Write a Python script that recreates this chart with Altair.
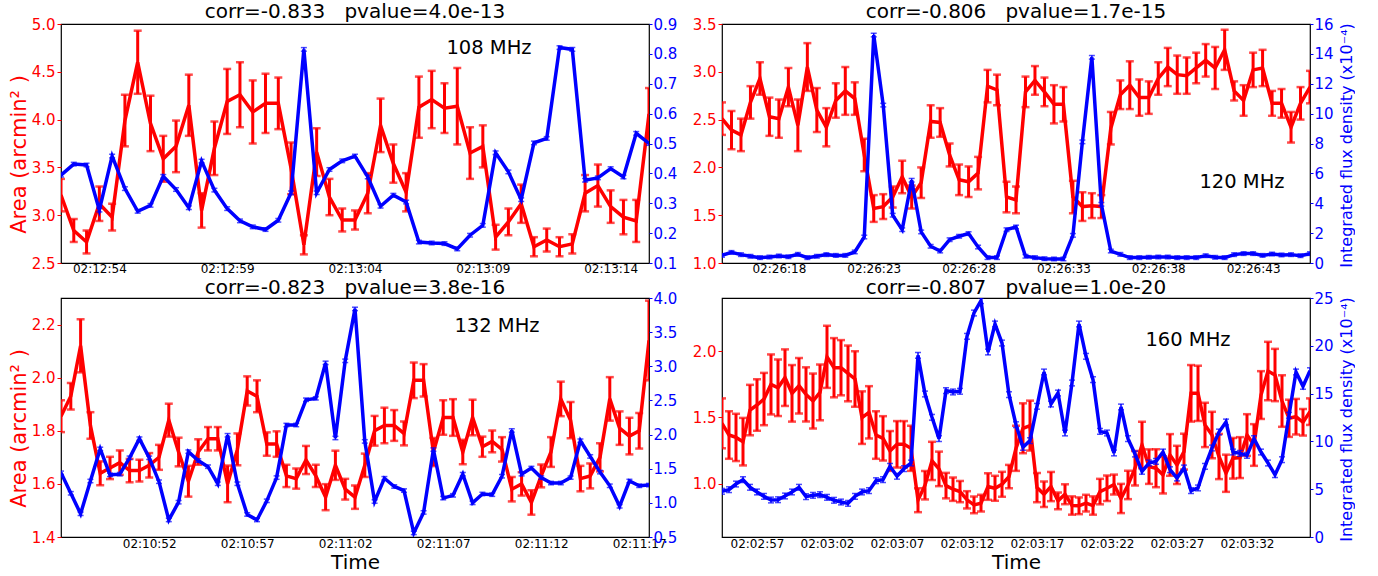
import altair as alt
import pandas as pd

FONT = "DejaVu Sans"
RED = "#ff0000"
BLUE = "#0000ff"
CADENCE = 0.5  # seconds between samples

# ---------------- 108 MHz ----------------
start_108 = "02:12:52.5"
ticks_108 = ["02:12:54", "02:12:59", "02:13:04", "02:13:09", "02:13:14"]
area_108 = [3.21, 2.84, 2.72, 3.12, 2.98, 3.99, 4.60, 3.96, 3.59, 3.72,
            4.15, 3.05, 3.70, 4.19, 4.26, 4.08, 4.17, 4.17, 3.49, 2.69,
            3.66, 3.19, 2.95, 2.95, 3.23, 3.94, 3.54, 3.24, 4.13, 4.21,
            4.12, 4.14, 3.65, 3.72, 2.77, 2.93, 3.12, 2.67, 2.74, 2.67,
            2.70, 3.23, 3.31, 3.09, 2.98, 2.94, 4.06]
area_err_108 = [0.17, 0.12, 0.12, 0.18, 0.14, 0.27, 0.33, 0.29, 0.24, 0.27,
                0.32, 0.18, 0.28, 0.34, 0.34, 0.33, 0.31, 0.27, 0.27, 0.10,
                0.25, 0.19, 0.12, 0.10, 0.21, 0.28, 0.20, 0.20, 0.32, 0.30,
                0.26, 0.40, 0.27, 0.22, 0.13, 0.14, 0.20, 0.10, 0.12, 0.10,
                0.10, 0.19, 0.22, 0.17, 0.18, 0.22, 0.27]
flux_108 = [0.394, 0.431, 0.428, 0.277, 0.458, 0.349, 0.273, 0.293, 0.390, 0.346,
            0.285, 0.441, 0.344, 0.282, 0.241, 0.221, 0.212, 0.243, 0.335, 0.815,
            0.335, 0.413, 0.442, 0.458, 0.388, 0.290, 0.327, 0.304, 0.170, 0.167,
            0.165, 0.147, 0.193, 0.226, 0.469, 0.405, 0.312, 0.502, 0.517, 0.821,
            0.815, 0.377, 0.385, 0.416, 0.388, 0.534, 0.500]
flux_err_108 = 0.006

# ---------------- 120 MHz ----------------
start_120 = "02:26:15.0"
ticks_120 = ["02:26:18", "02:26:23", "02:26:28", "02:26:33", "02:26:38", "02:26:43"]
area_120 = [2.51, 2.39, 2.34, 2.68, 2.93, 2.53, 2.51, 2.84, 2.44, 3.05,
            2.60, 2.42, 2.70, 2.80, 2.72, 2.13, 1.57, 1.59, 1.69, 1.90,
            1.69, 1.84, 2.48, 2.47, 2.13, 1.87, 1.85, 1.94, 2.85, 2.81,
            1.69, 1.66, 2.79, 2.91, 2.79, 2.66, 2.66, 1.69, 1.59, 1.60,
            1.59, 2.41, 2.76, 2.86, 2.73, 2.73, 2.93, 3.05, 2.97, 2.96,
            3.04, 3.12, 3.04, 3.23, 2.80, 2.70, 3.02, 3.04, 2.67, 2.67,
            2.42, 2.67, 2.84]
area_err_120 = [0.17, 0.20, 0.17, 0.17, 0.17, 0.20, 0.20, 0.20, 0.27, 0.25,
                0.23, 0.20, 0.18, 0.25, 0.17, 0.17, 0.14, 0.13, 0.11, 0.17,
                0.12, 0.16, 0.17, 0.15, 0.12, 0.16, 0.16, 0.17, 0.17, 0.16,
                0.16, 0.14, 0.16, 0.15, 0.15, 0.20, 0.18, 0.17, 0.15, 0.13,
                0.12, 0.17, 0.15, 0.25, 0.19, 0.17, 0.17, 0.20, 0.20, 0.19,
                0.16, 0.17, 0.22, 0.21, 0.10, 0.16, 0.18, 0.19, 0.13, 0.15,
                0.16, 0.17, 0.17]
flux_120 = [0.51, 0.71, 0.56, 0.45, 0.36, 0.40, 0.47, 0.42, 0.58, 0.36,
            0.45, 0.56, 0.51, 0.51, 0.74, 1.74, 15.26, 10.57, 3.20, 2.23,
            5.54, 2.08, 1.12, 0.80, 1.56, 1.79, 1.97, 1.07, 0.36, 0.36,
            2.23, 2.41, 0.45, 0.36, 0.29, 0.27, 0.27, 1.85, 8.11, 13.77,
            3.93, 0.80, 0.58, 0.36, 0.36, 0.38, 0.40, 0.40, 0.36, 0.36,
            0.36, 0.49, 0.38, 0.36, 0.56, 0.63, 0.63, 0.51, 0.60, 0.54,
            0.56, 0.49, 0.63]
flux_err_120 = 0.12

# ---------------- 132 MHz ----------------
start_132 = "02:10:47.5"
ticks_132 = ["02:10:52", "02:10:57", "02:11:02", "02:11:07", "02:11:12", "02:11:17"]
area_132 = [1.855, 1.93, 2.12, 1.82, 1.64, 1.66, 1.68, 1.65, 1.65, 1.67,
            1.70, 1.84, 1.72, 1.61, 1.72, 1.77, 1.77, 1.60, 1.73, 1.95,
            1.93, 1.75, 1.75, 1.63, 1.62, 1.69, 1.63, 1.55, 1.67, 1.58,
            1.55, 1.67, 1.80, 1.82, 1.82, 1.79, 1.99, 1.99, 1.72, 1.85,
            1.85, 1.72, 1.85, 1.74, 1.76, 1.73, 1.58, 1.60, 1.53, 1.63,
            1.72, 1.92, 1.84, 1.62, 1.63, 1.70, 1.92, 1.81, 1.78, 1.80,
            2.14]
area_err_132 = [0.06, 0.05, 0.10, 0.05, 0.045, 0.042, 0.046, 0.044, 0.041, 0.046,
                0.047, 0.062, 0.054, 0.058, 0.048, 0.044, 0.044, 0.069, 0.06, 0.055,
                0.06, 0.044, 0.048, 0.042, 0.038, 0.053, 0.042, 0.049, 0.055, 0.039,
                0.044, 0.044, 0.056, 0.067, 0.058, 0.045, 0.067, 0.061, 0.053, 0.065,
                0.069, 0.046, 0.067, 0.038, 0.041, 0.046, 0.046, 0.044, 0.046, 0.043,
                0.056, 0.065, 0.068, 0.048, 0.047, 0.053, 0.082, 0.063, 0.069, 0.067,
                0.15]
flux_132 = [1.44, 1.14, 0.84, 1.32, 1.79, 1.41, 1.42, 1.66, 1.94, 1.66,
            1.31, 0.75, 1.01, 1.75, 1.62, 1.53, 1.28, 1.99, 1.28, 0.83,
            0.75, 1.03, 1.37, 2.14, 2.14, 2.51, 2.53, 3.05, 1.95, 3.08,
            3.84, 1.90, 1.02, 1.36, 1.24, 1.18, 0.56, 0.86, 1.78, 1.07,
            1.11, 1.42, 1.00, 1.13, 1.12, 1.39, 2.06, 1.42, 1.51, 1.37,
            1.29, 1.29, 1.37, 1.91, 1.68, 1.45, 1.25, 0.95, 1.32, 1.25,
            1.26]
flux_err_132 = 0.025

# ---------------- 160 MHz ----------------
start_160 = "02:02:54.5"
ticks_160 = ["02:02:57", "02:03:02", "02:03:07", "02:03:12", "02:03:17",
             "02:03:22", "02:03:27", "02:03:32"]
area_160 = [1.456, 1.368, 1.35, 1.318, 1.556, 1.594, 1.639, 1.749, 1.724, 1.80,
            1.682, 1.739, 1.674, 1.624, 1.689, 1.957, 1.875, 1.875, 1.832, 1.79,
            1.499, 1.539, 1.368, 1.343, 1.248, 1.298, 1.298, 1.268, 0.877, 0.99,
            1.173, 1.113, 0.987, 0.96, 0.942, 0.88, 0.842, 0.855, 0.98, 0.967,
            0.997, 1.055, 1.268, 1.419, 1.439, 0.972, 0.922, 0.98, 0.872, 0.922,
            0.837, 0.835, 0.855, 0.837, 0.942, 0.967, 0.995, 0.89, 0.992, 1.118,
            1.293, 1.13, 1.118, 1.068, 1.218, 1.143, 1.243, 1.682, 1.682, 1.444,
            1.368, 1.206, 1.08, 1.193, 1.198, 1.368, 1.293, 1.669, 1.85, 1.82,
            1.624, 1.494, 1.506, 1.464, 1.544]
area_err_160 = [0.188, 0.179, 0.178, 0.179, 0.19, 0.194, 0.197, 0.226, 0.213, 0.213,
                0.213, 0.209, 0.204, 0.207, 0.21, 0.234, 0.223, 0.208, 0.21, 0.209,
                0.198, 0.197, 0.179, 0.167, 0.15, 0.175, 0.175, 0.17, 0.09, 0.107,
                0.144, 0.13, 0.096, 0.088, 0.08, 0.065, 0.063, 0.063, 0.1, 0.094,
                0.094, 0.088, 0.17, 0.188, 0.188, 0.11, 0.096, 0.11, 0.063, 0.075,
                0.069, 0.063, 0.063, 0.069, 0.096, 0.096, 0.075, 0.11, 0.107, 0.13,
                0.175, 0.13, 0.143, 0.14, 0.157, 0.144, 0.135, 0.213, 0.208, 0.167,
                0.175, 0.17, 0.14, 0.153, 0.154, 0.157, 0.157, 0.18, 0.22, 0.197,
                0.194, 0.14, 0.134, 0.1, 0.1]
flux_160 = [4.78, 4.95, 5.54, 6.0, 5.2, 4.71, 4.25, 3.87, 3.9, 4.29,
            4.71, 5.2, 4.22, 4.36, 4.43, 4.15, 3.84, 3.66, 3.52, 4.25,
            4.71, 4.85, 5.89, 6.0, 7.39, 6.35, 7.15, 7.74, 19.0, 14.96,
            12.52, 10.29, 15.31, 15.17, 15.24, 20.99, 23.43, 24.72, 19.35, 22.28,
            20.29, 14.89, 11.75, 9.38, 10.08, 13.67, 17.26, 13.91, 15.06, 10.88,
            16.11, 22.28, 18.9, 16.46, 11.05, 10.88, 8.79, 13.6, 10.29, 8.68,
            6.87, 7.74, 7.91, 8.89, 7.04, 6.17, 7.22, 4.85, 5.13, 7.39,
            9.31, 10.98, 12.03, 8.89, 8.75, 8.54, 10.29, 8.89, 7.74, 6.52,
            8.09, 12.73, 17.26, 15.76, 17.4]
flux_err_160 = 0.3

SP = "\u00a0\u00a0\u00a0"
titles = ["corr=-0.833" + SP + "pvalue=4.0e-13", "corr=-0.806" + SP + "pvalue=1.7e-15",
          "corr=-0.823" + SP + "pvalue=3.8e-16", "corr=-0.807" + SP + "pvalue=1.0e-20"]
freqs = ["108 MHz", "120 MHz", "132 MHz", "160 MHz"]
area_label = "Area (arcmin\u00b2 )"
flux_label = "Integrated flux density (x10\u207b\u2074)"
time_label = "Time"

W, H = 588, 239


def hms(s):
    h, m, sec = s.split(":")
    return int(h) * 3600 + int(m) * 60 + float(sec)


def build_panel(area, area_err, flux, flux_err, start, ticks, title, freq, freq_xy,
                a_dom, a_ticks, f_dom, f_ticks, f_fmt, show_area, show_flux, show_time,
                title_offset):
    t0 = hms(start)
    n = len(area)
    df = pd.DataFrame({
        "t": [t0 + CADENCE * i for i in range(n)],
        "area": area, "aerr": area_err,
        "flux": flux, "ferr": [flux_err] * n,
    })
    xscale = alt.Scale(domain=[t0, t0 + CADENCE * (n - 1)], nice=False, zero=False)
    xaxis_kw = dict(values=[hms(s) for s in ticks],
                    labelExpr="utcFormat(datum.value*1000, '%H:%M:%S')",
                    labelFontSize=12, labelColor="black", labelPadding=1,
                    labelFlush=False, labelOverlap=False, ticks=False,
                    domain=False, grid=False)
    if show_time:
        xaxis_kw.update(title=time_label, titleFontSize=20, titleFontWeight="normal",
                        titleColor="black", titleX=W / 2, titleY=25,
                        titleAlign="center", titleBaseline="middle")
    else:
        xaxis_kw.update(title=None, labelPadding=0)
    xenc = alt.X("t:Q", scale=xscale, axis=alt.Axis(**xaxis_kw))

    ascale = alt.Scale(domain=a_dom, nice=False, zero=False)
    fscale = alt.Scale(domain=f_dom, nice=False, zero=False)

    a_kw = dict(orient="left", values=a_ticks, format=".1f", labelColor=RED,
                tickColor=RED, tickSize=4, labelFontSize=15, labelPadding=2,
                labelOverlap=False, domain=False, grid=False)
    if show_area:
        a_kw.update(title=area_label, titleColor=RED, titleFontSize=21,
                    titleFontWeight="normal", titleAngle=270, titleAlign="center",
                    titleBaseline="middle", titleX=-41.5, titleY=130)
    else:
        a_kw.update(title=None)
    f_kw = dict(orient="right", values=f_ticks, format=f_fmt, labelColor=BLUE,
                tickColor=BLUE, tickSize=3, labelFontSize=15, labelPadding=1,
                labelOverlap=False, domain=False, grid=False)
    if show_flux:
        f_kw.update(title=flux_label, titleColor=BLUE, titleFontSize=16,
                    titleFontWeight="normal", titleAngle=270, titleAlign="center",
                    titleBaseline="middle", titleX=36, titleY=121)
    else:
        f_kw.update(title=None)

    base = alt.Chart(df).transform_calculate(
        alo="datum.area - datum.aerr", ahi="datum.area + datum.aerr",
        flo="datum.flux - datum.ferr", fhi="datum.flux + datum.ferr")

    red_bar = base.mark_rule(color=RED, strokeWidth=3, clip=True).encode(
        x=xenc, y=alt.Y("alo:Q", scale=ascale, axis=None), y2="ahi:Q")
    red_lo = base.mark_tick(color=RED, orient="horizontal", size=8, thickness=2.5,
                            clip=True).encode(x=xenc, y=alt.Y("alo:Q", scale=ascale, axis=None))
    red_hi = base.mark_tick(color=RED, orient="horizontal", size=8, thickness=2.5,
                            clip=True).encode(x=xenc, y=alt.Y("ahi:Q", scale=ascale, axis=None))
    red_line = base.mark_line(color=RED, strokeWidth=3.5, clip=True).encode(
        x=xenc, y=alt.Y("area:Q", scale=ascale, axis=alt.Axis(**a_kw)))

    blue_bar = base.mark_rule(color=BLUE, strokeWidth=1.5, clip=True).encode(
        x=xenc, y=alt.Y("flo:Q", scale=fscale, axis=None), y2="fhi:Q")
    blue_lo = base.mark_tick(color=BLUE, orient="horizontal", size=6, thickness=1.5,
                             clip=True).encode(x=xenc, y=alt.Y("flo:Q", scale=fscale, axis=None))
    blue_hi = base.mark_tick(color=BLUE, orient="horizontal", size=6, thickness=1.5,
                             clip=True).encode(x=xenc, y=alt.Y("fhi:Q", scale=fscale, axis=None))
    blue_line = base.mark_line(color=BLUE, strokeWidth=3.5, clip=True).encode(
        x=xenc, y=alt.Y("flux:Q", scale=fscale, axis=alt.Axis(**f_kw)))

    label = alt.Chart(pd.DataFrame({"lab": [freq]})).mark_text(
        font=FONT, fontSize=19.5, color="black", align="center", baseline="middle"
    ).encode(x=alt.value(freq_xy[0]), y=alt.value(freq_xy[1]), text="lab:N")

    return alt.layer(red_bar, red_lo, red_hi, red_line,
                     blue_bar, blue_lo, blue_hi, blue_line, label).resolve_scale(
        y="independent").properties(
        width=W, height=H,
        title=alt.Title(title, fontSize=20, fontWeight="normal", font=FONT,
                        color="black", offset=title_offset))


p1 = build_panel(area_108, area_err_108, flux_108, flux_err_108, start_108, ticks_108,
                 titles[0], freqs[0], (428, 24),
                 [2.5, 5.0], [2.5, 3.0, 3.5, 4.0, 4.5, 5.0],
                 [0.1, 0.9], [0.1, 0.2, 0.3, 0.4, 0.5, 0.6, 0.7, 0.8, 0.9], ".1f",
                 True, False, False, -5)
p2 = build_panel(area_120, area_err_120, flux_120, flux_err_120, start_120, ticks_120,
                 titles[1], freqs[1], (520, 158),
                 [1.0, 3.5], [1.0, 1.5, 2.0, 2.5, 3.0, 3.5],
                 [0, 16], [0, 2, 4, 6, 8, 10, 12, 14, 16], "d",
                 False, True, False, -5)
p3 = build_panel(area_132, area_err_132, flux_132, flux_err_132, start_132, ticks_132,
                 titles[2], freqs[2], (436, 28),
                 [1.4, 2.3], [1.4, 1.6, 1.8, 2.0, 2.2],
                 [0.5, 4.0], [0.5, 1.0, 1.5, 2.0, 2.5, 3.0, 3.5, 4.0], ".1f",
                 True, False, True, -7)
p4 = build_panel(area_160, area_err_160, flux_160, flux_err_160, start_160, ticks_160,
                 titles[3], freqs[3], (466, 42),
                 [0.6, 2.4], [1.0, 1.5, 2.0],
                 [0, 25], [0, 5, 10, 15, 20, 25], "d",
                 False, True, True, -7)

chart = alt.concat(p1, p2, p3, p4, columns=2, spacing={"row": 35, "column": 73},
                   bounds="flush").properties(
    padding={"left": 7, "top": 1, "right": 0, "bottom": 0},
    background="white",
).configure_view(stroke="black", strokeWidth=1.2).configure_axis(
    labelFont=FONT, titleFont=FONT).configure_text(font=FONT)

chart.save("out.html", embed_options={"renderer": "svg", "actions": False})
